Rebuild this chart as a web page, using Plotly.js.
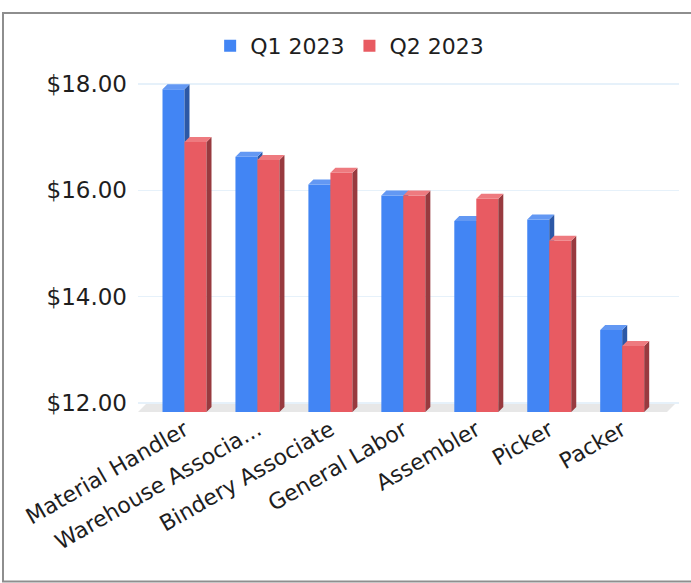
<!DOCTYPE html>
<html><head><meta charset="utf-8">
<script src="https://cdn.plot.ly/plotly-3.0.1.min.js"></script>
<style>html,body{margin:0;padding:0;background:#fff}#chart{width:691px;height:583px}</style>
</head><body><div id="chart"></div>
<script>
// ---- data ----
const categories = ["Material Handler","Warehouse Associa...","Bindery Associate","General Labor","Assembler","Picker","Packer"];
const q1 = [18.07, 16.80, 16.28, 16.07, 15.59, 15.62, 13.54];
const q2 = [17.08, 16.74, 16.50, 16.07, 16.01, 15.22, 13.24];
const seriesNames = ["Q1 2023", "Q2 2023"];
const yTicks = [12, 14, 16, 18];

// ---- geometry ----
const W = 691, H = 583;
const M = {l: 138, r: 12, t: 70, b: 171};
const plotW = W - M.l - M.r, plotH = H - M.t - M.b;
const xRange = [-0.6374, 6.7786];
const yFront = [12, 18.432];
const floorDepthPx = 9;
const pxPerY = plotH / (yFront[1] - yFront[0]);
const pxPerX = plotW / (xRange[1] - xRange[0]);
const yBack = [yFront[0] - floorDepthPx / pxPerY, yFront[1] - floorDepthPx / pxPerY];
const barW = 22 / pxPerX;
const dx = 5 / pxPerX, dy = 5 / pxPerY;
const base = yFront[0];
const idx = categories.map((c, i) => i);

function faces(vals, off) {
  const sx = [], sy = [], cx = [], cy = [];
  vals.forEach((v, i) => {
    const l = i + off, r = l + barW;
    sx.push(r, r + dx, r + dx, r, r, null);
    sy.push(base, base + dy, v + dy, v, base, null);
    cx.push(l, r, r + dx, l + dx, l, null);
    cy.push(v, v, v + dy, v + dy, v, null);
  });
  return {sx, sy, cx, cy};
}

const colors = [
  {front: "#4285f4", side: "#2c58a6", cap: "#6398f3"},
  {front: "#e85b62", side: "#983a3f", cap: "#ee7a7f"}
];
const series = [q1, q2];
const offsets = [-barW, 0];
const yax = ["y2", "y3"];

const traces = [{
  type: "scatter", mode: "markers", x: [idx[0]], y: [yTicks[0]],
  marker: {opacity: 0, size: 1}, xaxis: "x", yaxis: "y",
  showlegend: false, hoverinfo: "skip"
}];
series.forEach((vals, s) => {
  traces.push({
    type: "bar", name: seriesNames[s], x: idx, y: vals,
    width: barW, offset: offsets[s], xaxis: "x", yaxis: yax[s],
    marker: {color: colors[s].front, line: {width: 0}},
    hoverinfo: "skip"
  });
  const f = faces(vals, offsets[s]);
  traces.push({
    type: "scatter", mode: "lines", x: f.sx, y: f.sy, fill: "toself",
    fillcolor: colors[s].side, line: {width: 0, color: colors[s].side},
    xaxis: "x", yaxis: yax[s], showlegend: false, hoverinfo: "skip"
  });
  traces.push({
    type: "scatter", mode: "lines", x: f.cx, y: f.cy, fill: "toself",
    fillcolor: colors[s].cap, line: {width: 0, color: colors[s].cap},
    xaxis: "x", yaxis: yax[s], showlegend: false, hoverinfo: "skip"
  });
});

const px = p => (p - M.l) / plotW;
const py = p => (H - M.b - p) / plotH;

const font = {family: "DejaVu Sans, Verdana, sans-serif", size: 22, color: "#1e1e1e"};
const yFont = {family: "DejaVu Sans, Verdana, sans-serif", size: 23, color: "#1e1e1e"};

const layout = {
  width: W, height: H,
  margin: M,
  paper_bgcolor: "#ffffff",
  plot_bgcolor: "rgba(0,0,0,0)",
  font: font,
  showlegend: true,
  legend: {
    orientation: "h", xref: "container", yref: "container",
    x: 0.506, xanchor: "center", y: 1 - 46 / H, yanchor: "middle",
    font: font, itemclick: false, traceorder: "normal"
  },
  xaxis: {
    range: xRange, tickmode: "array", tickvals: idx, ticktext: categories,
    tickangle: -30, showgrid: false, zeroline: false, showline: false, ticks: "",
    tickfont: font, fixedrange: true
  },
  yaxis: {
    range: yBack, tickmode: "array", tickvals: yTicks, tickformat: "$.2f",
    showgrid: true, gridcolor: "#e6f1fa", gridwidth: 1.5, ticklabelstandoff: 10,
    zeroline: false, showline: false, ticks: "", tickfont: yFont, fixedrange: true
  },
  yaxis2: {overlaying: "y", range: yFront, visible: false, fixedrange: true},
  yaxis3: {overlaying: "y", range: yFront, visible: false, fixedrange: true},
  shapes: [
    {
      type: "path", xref: "paper", yref: "paper", layer: "below",
      path: `M ${px(138)} ${py(412)} L ${px(667)} ${py(412)} L ${px(676)} ${py(403)} L ${px(147)} ${py(403)} Z`,
      fillcolor: "#e7e7e7", line: {width: 0}
    },
    {
      type: "rect", xref: "paper", yref: "paper", layer: "above",
      x0: px(3), x1: px(720), y0: py(581.5), y1: py(13),
      line: {color: "#8e8e8e", width: 2}, fillcolor: "rgba(0,0,0,0)"
    }
  ]
};

Plotly.newPlot("chart", traces, layout, {displayModeBar: false, staticPlot: true});
</script>
</body></html>
